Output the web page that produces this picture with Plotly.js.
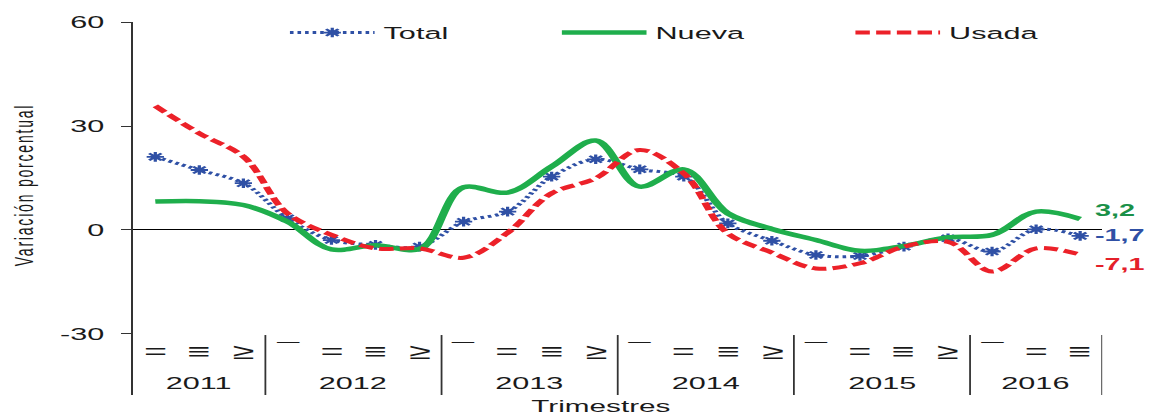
<!DOCTYPE html>
<html>
<head>
<meta charset="utf-8">
<script src="https://cdn.plot.ly/plotly-3.0.1.min.js"></script>
<style>
html,body{margin:0;padding:0;background:#fff;overflow:hidden;}
#wrap{width:638px;height:415px;transform:scaleX(1.80094);transform-origin:0 0;}
.annotation[data-index="0"] text{letter-spacing:1.8px;}
</style>
</head>
<body>
<div id="wrap"><div id="chart" style="width:638px;height:415px;"></div></div>
<script>
// ---- data ----
const years    = ["2011","2011","2011","2012","2012","2012","2012","2013","2013","2013","2013","2014","2014","2014","2014","2015","2015","2015","2015","2016","2016","2016"];
const quarters = ["=","≡","≥","¯","=","≡","≥","¯","=","≡","≥","¯","=","≡","≥","¯","=","≡","≥","¯","=","≡"];
const total = [21.1,17.3,13.5,3.4,-2.9,-4.3,-4.8,2.4,5.3,15.4,20.4,17.5,15.4,1.9,-3.1,-7.2,-7.5,-4.8,-2.4,-6.2,0.2,-1.7];
const nueva = [8.2,8.3,7.2,2.4,-5.6,-4.4,-5.5,12.3,10.8,18.3,25.8,12.5,17.5,4.8,0.3,-2.9,-6.0,-4.6,-2.1,-1.4,5.3,3.2];
const usada = [35.8,27.9,21.2,4.8,-1.4,-5.3,-5.3,-8.0,-0.8,10.6,14.9,23.1,16.3,-1.0,-6.5,-11.1,-9.6,-4.8,-3.4,-12.0,-5.3,-7.1];
const endLabels = ["3,2","-1,7","-7,1"];
const yTickVals = [-30,0,30,60];
const yTickText = ["-30","0","30","60"];

const BLUE = "#2f50a5", GREEN = "#1fae4c", RED = "#ec2129";
const xcat = years.map((y,i)=> y + " " + quarters[i]);
const n = xcat.length;

const traces = [
  {x:xcat, y:total, name:"Total", type:"scatter", mode:"lines+markers",
   line:{color:BLUE, width:3, dash:"2px,2.2px", shape:"spline", smoothing:1},
   marker:{symbol:"asterisk-open", size:8, color:BLUE, line:{color:BLUE, width:1.8}},
   legendwidth:89},
  {x:xcat, y:nueva, name:"Nueva", type:"scatter", mode:"lines",
   line:{color:GREEN, width:4.5, shape:"spline", smoothing:1}, legendwidth:101},
  {x:xcat, y:usada, name:"Usada", type:"scatter", mode:"lines",
   line:{color:RED, width:4, dash:"8px,3.5px", shape:"spline", smoothing:1}, legendwidth:52}
];

const annotations = [];
annotations.push({xref:"paper", yref:"paper", x:-0.1128, y:0.563, text:"Variación porcentual",
  textangle:-90, showarrow:false, xanchor:"center", yanchor:"middle",
  font:{family:"Liberation Sans, Arial, sans-serif", size:14, color:"#1a1a1a"}});
// quarter labels
for (let i=0;i<n;i++){
  annotations.push({x:i, y:-35.0, xref:"x", yref:"y", text:quarters[i], showarrow:false,
    xanchor:"center", yanchor:"middle", font:{size:22, color:"#1a1a1a"}});
}
// year labels and separators
const shapes = [];
const uniqYears = [...new Set(years)];
uniqYears.forEach(yr=>{
  const idx = years.map((y,i)=>y===yr?i:-1).filter(i=>i>=0);
  const c = (idx[0]+idx[idx.length-1])/2;
  annotations.push({x:c, y:-44.3, xref:"x", yref:"y", text:yr, showarrow:false,
    xanchor:"center", yanchor:"middle", font:{size:17, color:"#1a1a1a"}});
  const end = idx[idx.length-1]+0.5;
  shapes.push({type:"line", xref:"x", yref:"y", x0:end, x1:end, y0:-30.3, y1:-47.6,
    line:{color:"#333", width:1}});
});
// end labels
const endSeries = [nueva, total, usada];
const endColors = ["#1a9048", BLUE, "#e4202a"];
const endShift = [8, 0, -10];
endSeries.forEach((s,k)=>{
  annotations.push({x:n-1, y:s[n-1], xref:"x", yref:"y", text:endLabels[k], showarrow:false,
    xanchor:"left", yanchor:"middle", xshift:6, yshift:endShift[k],
    font:{size:16, color:endColors[k], weight:"bold"}});
});
annotations.push({xref:"paper", yref:"paper", x:0.4818, y:0, yshift:0, text:"Trimestres",
  showarrow:false, xanchor:"center", yanchor:"top", font:{size:16.5, color:"#1a1a1a"}});

const layout = {
  width:638, height:415,
  margin:{l:74, r:26, t:22, b:20, pad:0},
  paper_bgcolor:"#fff", plot_bgcolor:"#fff",
  font:{family:"Liberation Sans, Arial, sans-serif", size:17, color:"#1a1a1a"},
  showlegend:true,
  legend:{orientation:"h", x:0.1524, xanchor:"left", y:0.9705, yanchor:"middle",
    bgcolor:"rgba(0,0,0,0)", borderwidth:0, itemwidth:47, entrywidth:95,
    font:{size:17, color:"#1a1a1a"}},
  xaxis:{type:"category", range:[-0.5, n-0.5], showticklabels:false, ticks:"",
    showline:false, showgrid:false, zeroline:false, fixedrange:true},
  yaxis:{range:[-47.6,60], tickvals:yTickVals, ticktext:yTickText, ticks:"outside",
    ticklen:5.7, tickwidth:1, tickcolor:"#333", showline:true, linecolor:"#333", linewidth:1,
    zeroline:true, zerolinecolor:"#000", zerolinewidth:1, showgrid:false,
    tickfont:{size:17, color:"#1a1a1a"}, ticklabelstandoff:6, fixedrange:true},
  annotations:annotations,
  shapes:shapes
};

Plotly.newPlot("chart", traces, layout, {displayModeBar:false, staticPlot:true});
</script>
</body>
</html>
